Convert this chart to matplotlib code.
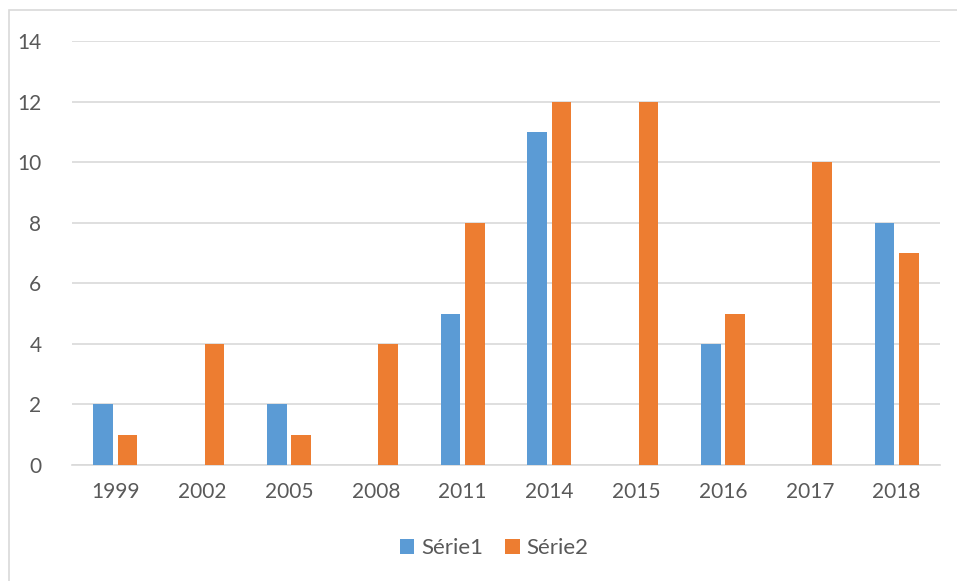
import numpy as np
import matplotlib.pyplot as plt
from matplotlib.patches import Rectangle

years = ["1999", "2002", "2005", "2008", "2011", "2014", "2015", "2016", "2017", "2018"]
serie1 = [2, 0, 2, 0, 5, 11, 0, 4, 0, 8]
serie2 = [1, 4, 1, 4, 8, 12, 12, 5, 10, 7]
yticks = [0, 2, 4, 6, 8, 10, 12, 14]


def main():
    plt.rcParams['font.family'] = ['Lato', 'DejaVu Sans']

    fig = plt.figure(figsize=(9.57, 5.81), dpi=100)
    ax = fig.add_axes([72 / 957, 1 - 465 / 581, 868 / 957, 424 / 581])

    # chart area border like Excel
    fig.patches.append(Rectangle((8.5 / 957, -0.05), 1.0, 1 - 10.5 / 581 + 0.05,
                                 transform=fig.transFigure, fill=False,
                                 edgecolor='#D9D9D9', linewidth=1.2))

    x = np.arange(len(years))
    w = 0.225
    ax.bar(x - 0.14, serie1, width=w, color='#5B9BD5', label='Série1', zorder=3)
    ax.bar(x + 0.14, serie2, width=w, color='#ED7D31', label='Série2', zorder=3)

    ax.set_xlim(-0.5, len(years) - 0.5)
    ax.set_ylim(0, 14)
    ax.set_yticks(yticks)
    ax.set_xticks(x)
    ax.set_xticklabels(years)

    ax.grid(axis='y', color='#D9D9D9', linewidth=1.2, zorder=0)
    for s in ['top', 'right', 'left']:
        ax.spines[s].set_visible(False)
    ax.spines['bottom'].set_color('#D9D9D9')
    ax.spines['bottom'].set_linewidth(1.2)
    ax.tick_params(length=0, labelsize=15, labelcolor='#595959')
    ax.tick_params(axis='x', pad=12)
    ax.tick_params(axis='y', pad=22)

    ax.legend(loc='center', bbox_to_anchor=(494 / 957, (581 - 548) / 581), bbox_transform=fig.transFigure,
              ncol=2, frameon=False, fontsize=16, labelcolor='#595959',
              handlelength=0.65, handleheight=0.65, handletextpad=0.3, columnspacing=1.0)

    fig.savefig('out.png', dpi=100)


if __name__ == '__main__':
    main()
